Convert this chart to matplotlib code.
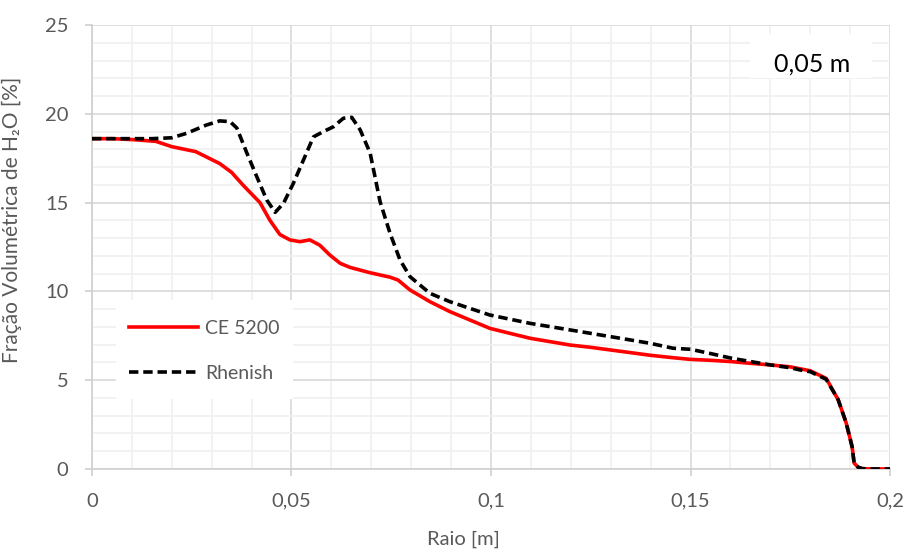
import matplotlib
matplotlib.use("Agg")
import matplotlib.pyplot as plt
from matplotlib.patches import Rectangle
from matplotlib.ticker import MultipleLocator, FuncFormatter

# Radial position [m] and water volume fraction [%]
raio_ce = [0.0, 0.005, 0.010, 0.013, 0.016, 0.020, 0.026, 0.032, 0.035, 0.038,
           0.0421, 0.0446, 0.0471, 0.0496, 0.0521, 0.0546, 0.0571, 0.0596,
           0.0622, 0.0647, 0.0697, 0.0747, 0.0767, 0.0797, 0.0847, 0.0897,
           0.0947, 0.0997, 0.1047, 0.1098, 0.1148, 0.1198, 0.125, 0.130,
           0.135, 0.140, 0.145, 0.150, 0.155, 0.160, 0.165, 0.170, 0.175,
           0.180, 0.184, 0.187, 0.189, 0.1905, 0.191, 0.192, 0.193, 0.195, 0.200]
fracao_ce = [18.6, 18.6, 18.55, 18.5, 18.45, 18.15, 17.87, 17.2, 16.7, 15.95,
             15.0, 14.0, 13.2, 12.9, 12.8, 12.9, 12.6, 12.05,
             11.58, 11.35, 11.05, 10.8, 10.64, 10.08, 9.42, 8.86,
             8.39, 7.92, 7.64, 7.36, 7.17, 6.98, 6.85, 6.7,
             6.55, 6.4, 6.28, 6.17, 6.12, 6.05, 5.95, 5.86, 5.75,
             5.53, 5.1, 3.9, 2.6, 1.25, 0.33, 0.1, 0.02, 0.0, 0.0]

raio_rh = [0.0, 0.005, 0.010, 0.015, 0.020, 0.0237, 0.0287, 0.032, 0.0346,
           0.0363, 0.0388, 0.0413, 0.0438, 0.0459, 0.048, 0.0505, 0.053,
           0.0555, 0.058, 0.0605, 0.063, 0.0651, 0.0672, 0.0697, 0.0722,
           0.0747, 0.0772, 0.0797, 0.0847, 0.0897, 0.0997, 0.1098, 0.1198,
           0.130, 0.1398, 0.1456, 0.150, 0.155, 0.160, 0.165, 0.170, 0.175,
           0.178, 0.180, 0.184, 0.187, 0.189, 0.1905, 0.191, 0.192, 0.193,
           0.195, 0.200]
fracao_rh = [18.6, 18.6, 18.6, 18.6, 18.65, 18.9, 19.37, 19.6, 19.56,
             19.2, 17.8, 16.46, 15.15, 14.45, 14.96, 16.1, 17.4,
             18.7, 19.0, 19.27, 19.75, 19.8, 19.1, 17.8, 15.05,
             13.27, 11.77, 10.83, 9.89, 9.42, 8.67, 8.2, 7.83,
             7.45, 7.08, 6.8, 6.74, 6.5, 6.25, 6.05, 5.86, 5.7,
             5.55, 5.48, 5.05, 3.9, 2.6, 1.25, 0.33, 0.1, 0.02,
             0.0, 0.0]

x_major = 0.05
x_minor = 0.01
y_major = 5
y_minor = 1

plt.rcParams['font.family'] = ['Lato', 'DejaVu Sans']
gray_text = '#595959'

fig = plt.figure(figsize=(9.07, 5.52), dpi=100)
ax = fig.add_axes([0.1014, 0.1504, 0.8799, 0.8043])

ax.plot(raio_ce, fracao_ce, color='#ff0000', lw=2.6, label='CE 5200',
        solid_joinstyle='round', zorder=3)
ax.plot(raio_rh, fracao_rh, color='black', lw=2.6, ls=(0, (2.6, 1.35)),
        label='Rhenish', zorder=4)

ax.set_xlim(0, 0.2)
ax.set_ylim(0, 25)
ax.xaxis.set_major_locator(MultipleLocator(x_major))
ax.xaxis.set_minor_locator(MultipleLocator(x_minor))
ax.yaxis.set_major_locator(MultipleLocator(y_major))
ax.yaxis.set_minor_locator(MultipleLocator(y_minor))

def fmt_comma(v, pos):
    s = f"{v:.2f}".rstrip('0').rstrip('.')
    return s.replace('.', ',')

ax.xaxis.set_major_formatter(FuncFormatter(fmt_comma))
ax.yaxis.set_major_formatter(FuncFormatter(lambda v, p: f"{int(round(v))}"))

ax.grid(which='major', color='#d9d9d9', lw=1.2, zorder=0)
ax.grid(which='minor', color='#f0f0f0', lw=1.2, zorder=0)
ax.set_axisbelow(True)

for side in ['top', 'right']:
    ax.spines[side].set_visible(False)
for side in ['left', 'bottom']:
    ax.spines[side].set_color('#d0d0d0')
    ax.spines[side].set_linewidth(1.2)

ax.tick_params(which='major', direction='out', length=5, width=1.2,
               color='#d0d0d0', labelsize=14.5, labelcolor=gray_text)
ax.tick_params(which='minor', length=0)
ax.tick_params(axis='y', pad=12)
ax.tick_params(axis='x', pad=12)

ax.set_xlabel('Raio [m]', fontsize=14.5, color=gray_text)
ax.xaxis.set_label_coords(0.465, -0.14)
ax.set_ylabel('Fração Volumétrica de H₂O [%]', fontsize=15, color=gray_text)
ax.yaxis.set_label_coords(-0.088, 0.561)

# white backdrop behind the legend
ax.add_patch(Rectangle((0.006, 3.94), 0.0444, 5.58, facecolor='white',
                       edgecolor='none', zorder=5))
leg = ax.legend(loc='upper left', bbox_to_anchor=(0.0464, 0.335),
                frameon=False, fontsize=14, labelcolor=gray_text,
                handlelength=3.55, labelspacing=1.41, borderpad=0,
                borderaxespad=0, handletextpad=0.38)
leg.set_zorder(6)

# white backdrop behind the position tag
ax.add_patch(Rectangle((0.165, 22.0), 0.0305, 2.5, facecolor='white',
                       edgecolor='none', zorder=5))
ax.text(0.1804, 22.82, '0,05 m', fontsize=18, color='black',
        ha='center', va='center', zorder=6)

fig.savefig('out.png', dpi=100)
